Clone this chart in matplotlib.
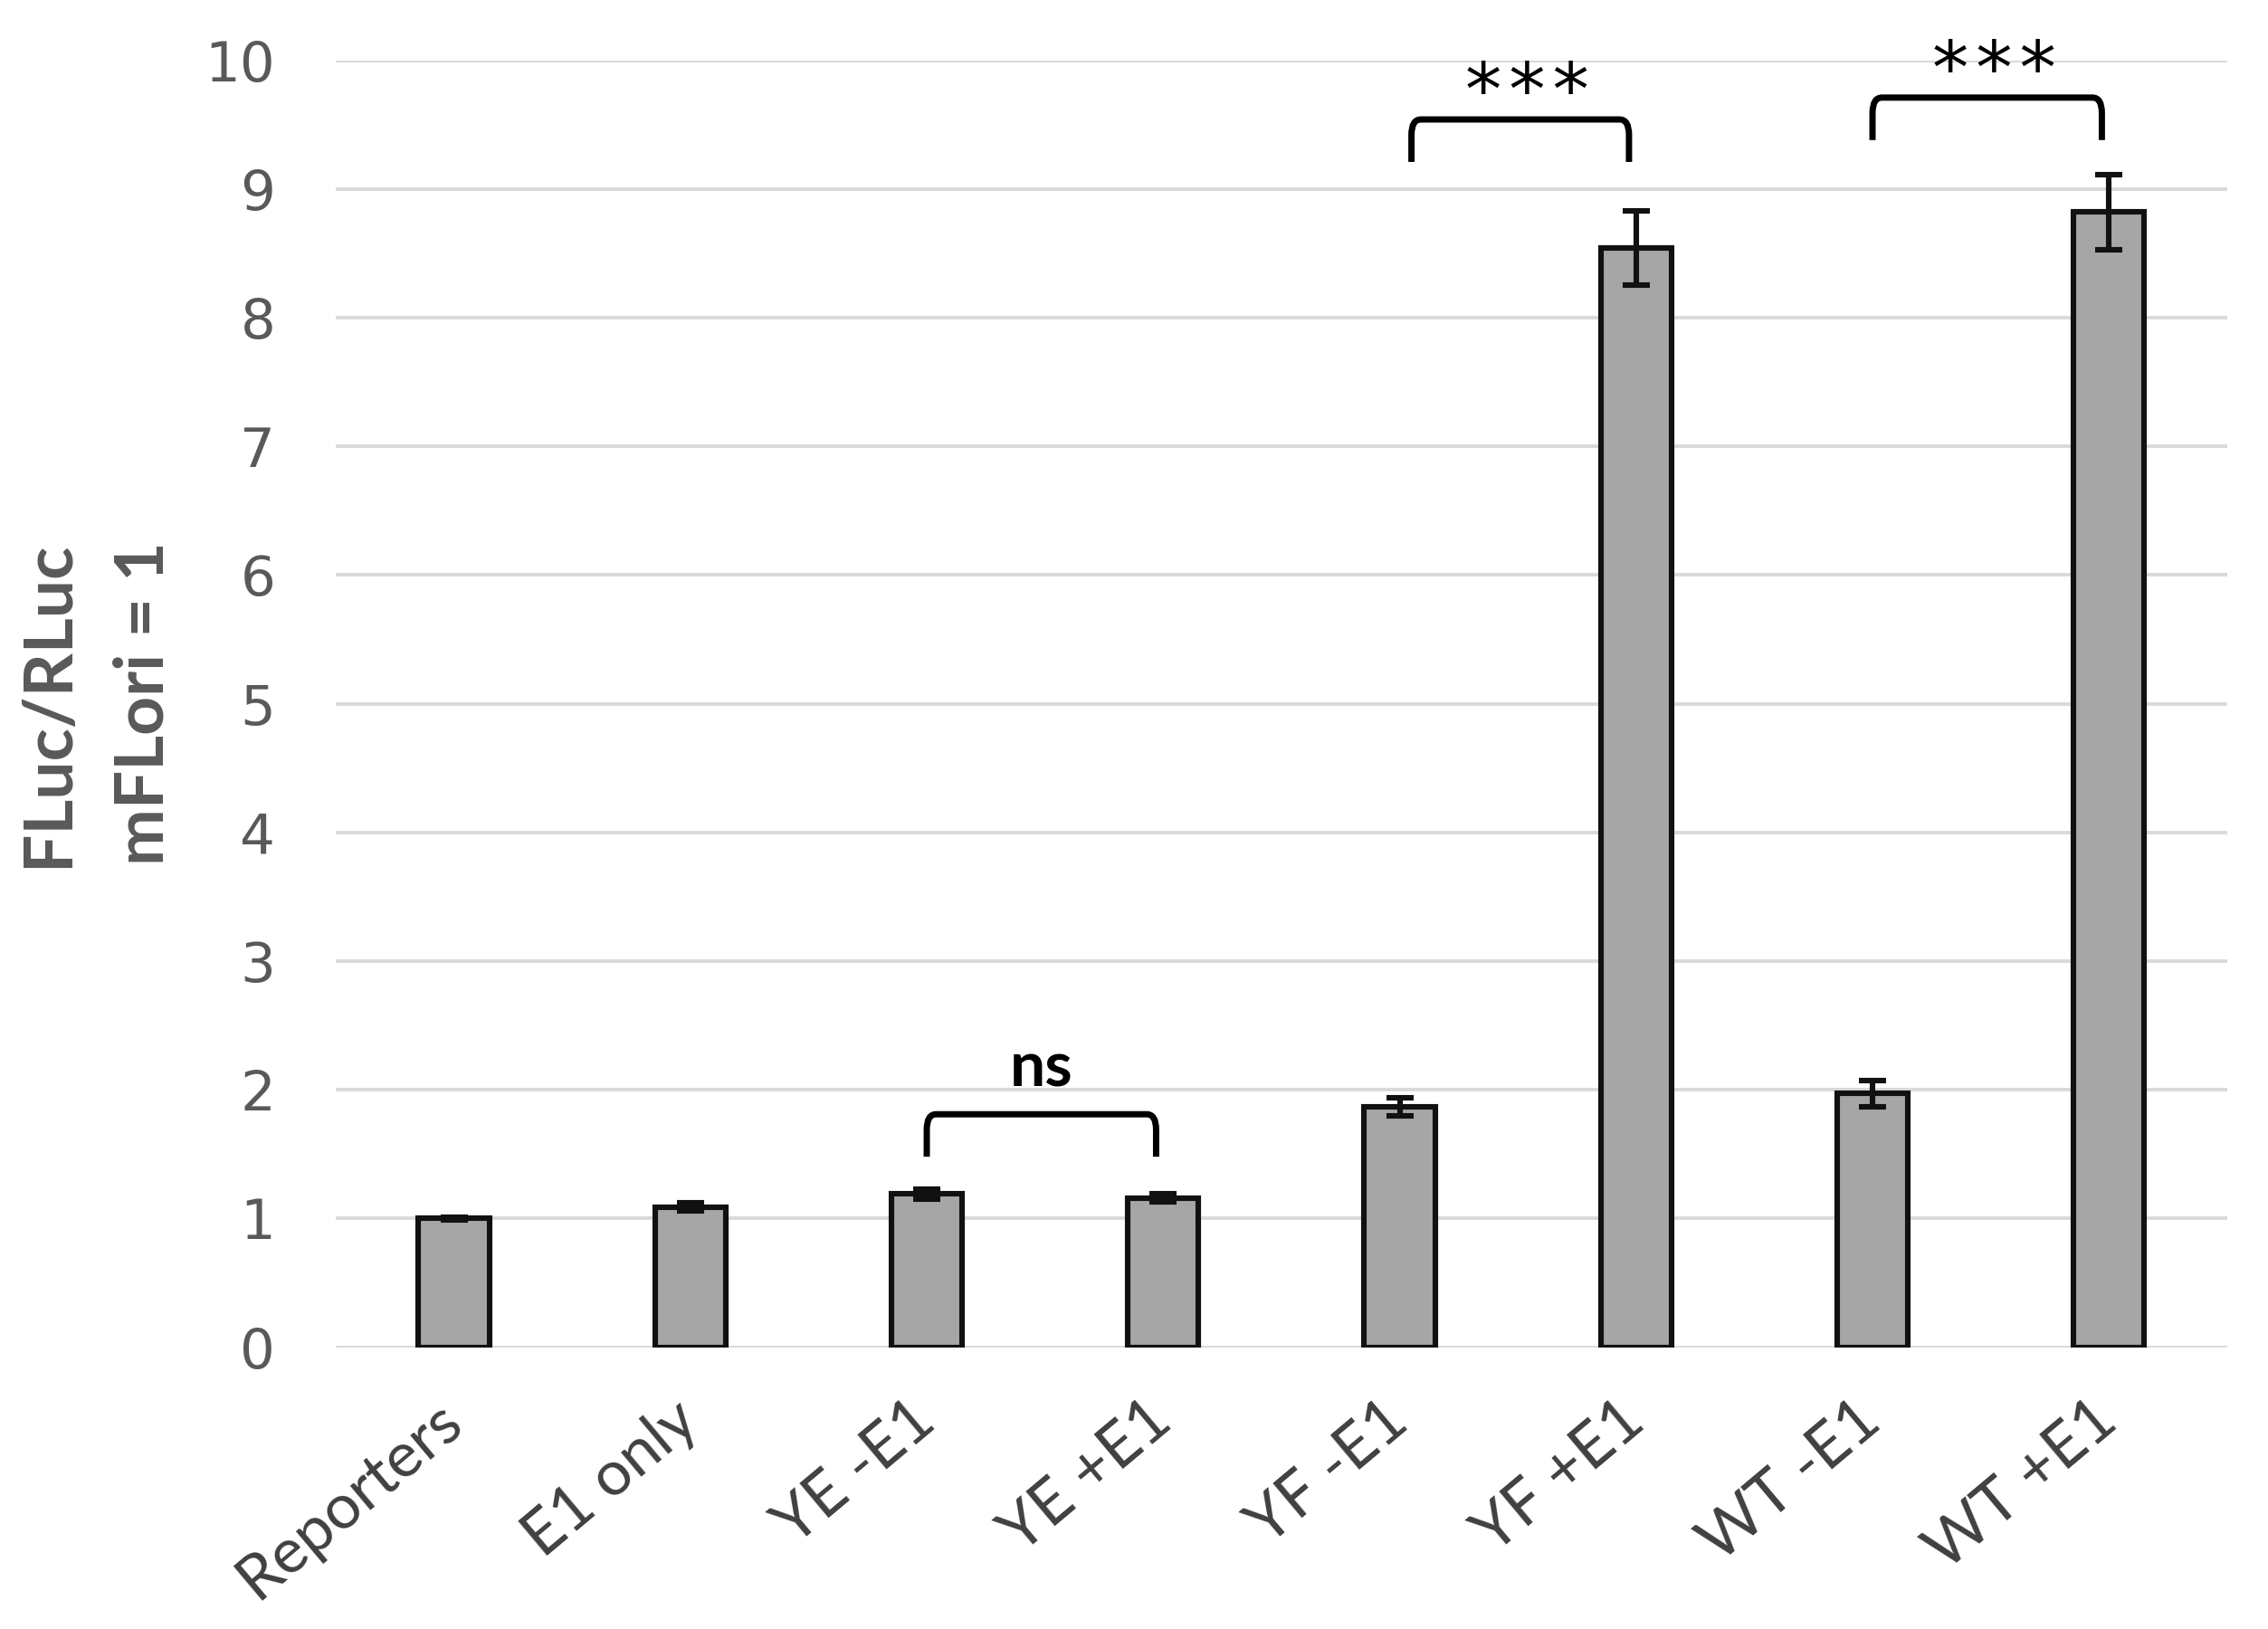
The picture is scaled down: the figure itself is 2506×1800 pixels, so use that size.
import matplotlib.pyplot as plt
from matplotlib.path import Path
from matplotlib.patches import PathPatch

# Данні графіка
categories = ['Reporters', 'E1 only', 'YE -E1', 'YE +E1', 'YF -E1', 'YF +E1', 'WT -E1', 'WT +E1']
values = [1.00, 1.09, 1.19, 1.16, 1.87, 8.54, 1.97, 8.82]
errors = [0.01, 0.03, 0.04, 0.03, 0.07, 0.29, 0.10, 0.29]

# Порівняння: мітки значущості та групи, між якими вони стоять
sig_labels = ['ns', '***', '***']
sig_pairs = [(2, 3), (4, 5), (6, 7)]
sig_heights = [1.81, 9.54, 9.71]

fig = plt.figure(figsize=(12.53, 9.0), dpi=200)
ax = fig.add_axes([0.148, 0.173, 0.834, 0.790])

x = list(range(len(categories)))
ax.bar(x, values, width=0.30, color='#a6a6a6', edgecolor='#111111', linewidth=2.2, zorder=3)
ax.errorbar(x, values, yerr=errors, fmt='none', ecolor='#111111', elinewidth=2.2,
            capsize=5.5, capthick=2.2, zorder=4)

ax.set_xlim(-0.5, len(categories) - 0.5)
ax.set_ylim(0, 10)
ax.set_yticks(range(0, 11))
ax.grid(axis='y', color='#d9d9d9', linewidth=1.4, zorder=0)
for s in ax.spines.values():
    s.set_visible(False)
ax.tick_params(axis='both', length=0)
ax.tick_params(axis='y', pad=24, labelsize=22, labelcolor='#595959')
ax.tick_params(axis='x', pad=26)

ax.set_xticks(x)
ax.set_xticklabels(categories, rotation=40, ha='right', va='center', rotation_mode='anchor',
                   fontsize=25, color='#404040', family='Lato')

ax.set_ylabel('FLuc/RLuc\nmFLori = 1', fontsize=27, fontweight='bold', color='#595959',
              family='Lato', linespacing=1.65, labelpad=12)

# Дужки значущості
shifts = [0.0, 0.05, 0.0]
for (left, right), top, label, dx in zip(sig_pairs, sig_heights, sig_labels, shifts):
    x0, x1 = left + dx, right - 0.03
    yb = top - 0.33
    r, rx = 0.12, 0.04
    verts = [(x0, yb), (x0, top - r), (x0, top), (x0 + rx, top),
             (x1 - rx, top), (x1, top), (x1, top - r), (x1, yb)]
    codes = [Path.MOVETO, Path.LINETO, Path.CURVE3, Path.CURVE3,
             Path.LINETO, Path.CURVE3, Path.CURVE3, Path.LINETO]
    ax.add_patch(PathPatch(Path(verts, codes), fill=False, edgecolor='black',
                           linewidth=2.5, zorder=5, clip_on=False))
    if label == 'ns':
        ax.text((x0 + x1) / 2, top + 0.35, label, ha='center', va='center',
                fontsize=25, fontweight='bold', family='Lato', clip_on=False)
    else:
        ax.text((x0 + x1) / 2 + 0.03, top + 0.19, '\u200a'.join(label), ha='center', va='center',
                fontsize=29, family='DejaVu Sans', clip_on=False)

plt.savefig('out.png', dpi=200)
